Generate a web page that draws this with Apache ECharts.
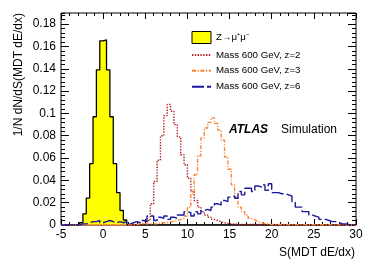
<!DOCTYPE html>
<html><head><meta charset="utf-8">
<script src="https://cdn.jsdelivr.net/npm/echarts@6/dist/echarts.min.js"></script>
<style>html,body{margin:0;padding:0;background:#fff}#c{width:374px;height:268px}</style>
</head><body><div id="c"></div>
<script>
// ---- data ----
const BIN_WIDTH = 0.4;
const X_MIN = -5, X_MAX = 30, X_INTERVAL = 5;
const Y_MIN = 0, Y_MAX = 0.19, Y_INTERVAL = 0.02, Y_MINOR_INTERVAL = 0.004;

const seriesNames = ['Z\u2192\u03bc\u207a\u03bc\u207b', 'Mass 600 GeV, z=2', 'Mass 600 GeV, z=3', 'Mass 600 GeV, z=6'];

const zmumuStart = -2.8;
const zmumuValues = [0.002, 0.010, 0.024, 0.055, 0.097, 0.139, 0.165, 0.166, 0.139, 0.097, 0.055, 0.029, 0.013, 0.0045];

const z2Start = 4.4;
const z2Values = [0.001, 0.002, 0.004, 0.019, 0.039, 0.058, 0.080, 0.098, 0.108, 0.102, 0.090, 0.079, 0.063, 0.054,
  0.042, 0.030, 0.022, 0.016, 0.012, 0.009, 0.007, 0.005, 0.004, 0.003, 0.002, 0.0015, 0.001, 0.001, 0.0005];

const z3Start = 3.2;
const z3Values = [0.0005, 0.0005, 0.001, 0.001, 0.001, 0.001, 0.001, 0.001, 0.002, 0.002, 0.002, 0.003, 0.003, 0.004,
  0.005, 0.006, 0.008, 0.016, 0.028, 0.045, 0.062, 0.078, 0.087, 0.092, 0.096, 0.091, 0.085, 0.076, 0.061, 0.050,
  0.036, 0.025, 0.016, 0.012, 0.009, 0.006, 0.0045, 0.003, 0.002, 0.0015, 0.001, 0.0005];

const z6Start = -2.8;
const z6Values = [0.001, 0.001, 0.002, 0.003, 0.003, 0.004, 0.002, 0.003, 0.004, 0.003, 0.002, 0.003, 0.002, 0.003,
  0.001, 0.002, 0.003, 0.002, 0.004, 0.003, 0.008, 0.008, 0.004, 0.007, 0.006, 0.008, 0.005, 0.007, 0.006, 0.009,
  0.009, 0.012, 0.011, 0.008, 0.012, 0.010, 0.013, 0.014, 0.013, 0.016, 0.019, 0.018, 0.022, 0.021, 0.025, 0.026,
  0.024, 0.030, 0.027, 0.033, 0.033, 0.030, 0.035, 0.034, 0.036, 0.031, 0.037, 0.029, 0.029, 0.028, 0.028, 0.027,
  0.026, 0.021, 0.016, 0.016, 0.012, 0.012, 0.009, 0.008, 0.007, 0.005, 0.005, 0.004, 0.003, 0.003, 0.002, 0.001,
  0.001, 0.0005];

// ---- build ----
const FONT = '"Liberation Sans", Arial, Helvetica, sans-serif';
function histPoints(start, values) {
  const pts = [[X_MIN, 0], [start, 0]];
  values.forEach((v, i) => pts.push([+(start + i * BIN_WIDTH).toFixed(4), v]));
  pts.push([+(start + values.length * BIN_WIDTH).toFixed(4), 0]);
  pts.push([X_MAX, 0]);
  return pts;
}

const tickLine = { color: '#000', width: 1 };
function xAx(pos) {
  return {
    type: 'value', min: X_MIN, max: X_MAX, interval: X_INTERVAL, position: pos,
    axisLine: { show: false, onZero: false },
    axisTick: { show: true, inside: true, length: 6, lineStyle: tickLine },
    minorTick: { show: true, splitNumber: 5, length: 3, lineStyle: tickLine },
    splitLine: { show: false }, minorSplitLine: { show: false },
    axisLabel: { show: pos === 'bottom', color: '#000', fontSize: 12, fontFamily: FONT, margin: 4 }
  };
}
function yAx(pos, minor) {
  return {
    type: 'value', min: Y_MIN, max: Y_MAX, interval: minor ? Y_MINOR_INTERVAL : Y_INTERVAL, position: pos,
    axisLine: { show: false, onZero: false },
    axisTick: { show: true, inside: true, length: minor ? 4 : 8, lineStyle: tickLine },
    splitLine: { show: false },
    axisLabel: { show: pos === 'left' && !minor, showMaxLabel: false, color: '#000', fontSize: 12, fontFamily: FONT, margin: 5 }
  };
}

const chart = echarts.init(document.getElementById('c'), null, { renderer: 'canvas' });
chart.setOption({
  animation: false,
  backgroundColor: '#fff',
  grid: { left: 61, right: 18, top: 13, bottom: 43, show: true, borderColor: '#000', borderWidth: 1,
          backgroundColor: 'transparent', containLabel: false, outerBoundsMode: 'none' },
  xAxis: [xAx('bottom'), xAx('top')],
  yAxis: [yAx('left', false), yAx('right', false), yAx('left', true), yAx('right', true)],
  legend: {
    left: 191, top: 31, orient: 'vertical', padding: 0, itemWidth: 19, itemHeight: 12, itemGap: 5.9,
    selectedMode: false,
    textStyle: { color: '#000', fontSize: 9.7, fontFamily: FONT },
    data: [
      { name: seriesNames[0], icon: 'rect', itemStyle: { color: '#ffff00', borderColor: '#000', borderWidth: 1 } },
      { name: seriesNames[1], itemStyle: { opacity: 0 } },
      { name: seriesNames[2], itemStyle: { opacity: 0 } },
      { name: seriesNames[3], itemStyle: { opacity: 0 } }
    ]
  },
  graphic: [
    { type: 'text', x: 19, y: 13, rotation: Math.PI / 2,
      style: { text: '1/N dN/dS(MDT dE/dx)', fontSize: 12, fontFamily: FONT, fill: '#000', align: 'right', verticalAlign: 'middle' } },
    { type: 'text', x: 355, y: 253,
      style: { text: 'S(MDT dE/dx)', fontSize: 12, fontFamily: FONT, fill: '#000', align: 'right', verticalAlign: 'middle' } },
    { type: 'text', x: 229, y: 130,
      style: { text: 'ATLAS', fontSize: 12, fontWeight: 'bold', fontStyle: 'italic', fontFamily: FONT, fill: '#000', align: 'left', verticalAlign: 'middle' } },
    { type: 'text', x: 281, y: 130,
      style: { text: 'Simulation', fontSize: 12, fontFamily: FONT, fill: '#000', align: 'left', verticalAlign: 'middle' } }
  ],
  series: [
    { name: seriesNames[0], type: 'line', step: 'end', symbol: 'none', data: histPoints(zmumuStart, zmumuValues),
      itemStyle: { color: '#ffff00' },
      lineStyle: { color: '#000', width: 1.3 }, areaStyle: { color: '#ffff00', opacity: 1 }, z: 2 },
    { name: seriesNames[1], type: 'line', step: 'end', symbol: 'none', data: histPoints(z2Start, z2Values),
      itemStyle: { color: '#b22226' },
      lineStyle: { color: '#b22226', width: 1.4, type: [1.4, 1.4] }, z: 3 },
    { name: seriesNames[2], type: 'line', step: 'end', symbol: 'none', data: histPoints(z3Start, z3Values),
      itemStyle: { color: '#ff8533' },
      lineStyle: { color: '#ff8533', width: 1.4, type: [4, 1.6, 1.2, 1.6] }, z: 3 },
    { name: seriesNames[3], type: 'line', step: 'end', symbol: 'none', data: histPoints(z6Start, z6Values),
      itemStyle: { color: '#1a1a99' },
      lineStyle: { color: '#1a1a99', width: 1.4, type: [12, 3] }, z: 4 }
  ]
});
</script></body></html>
